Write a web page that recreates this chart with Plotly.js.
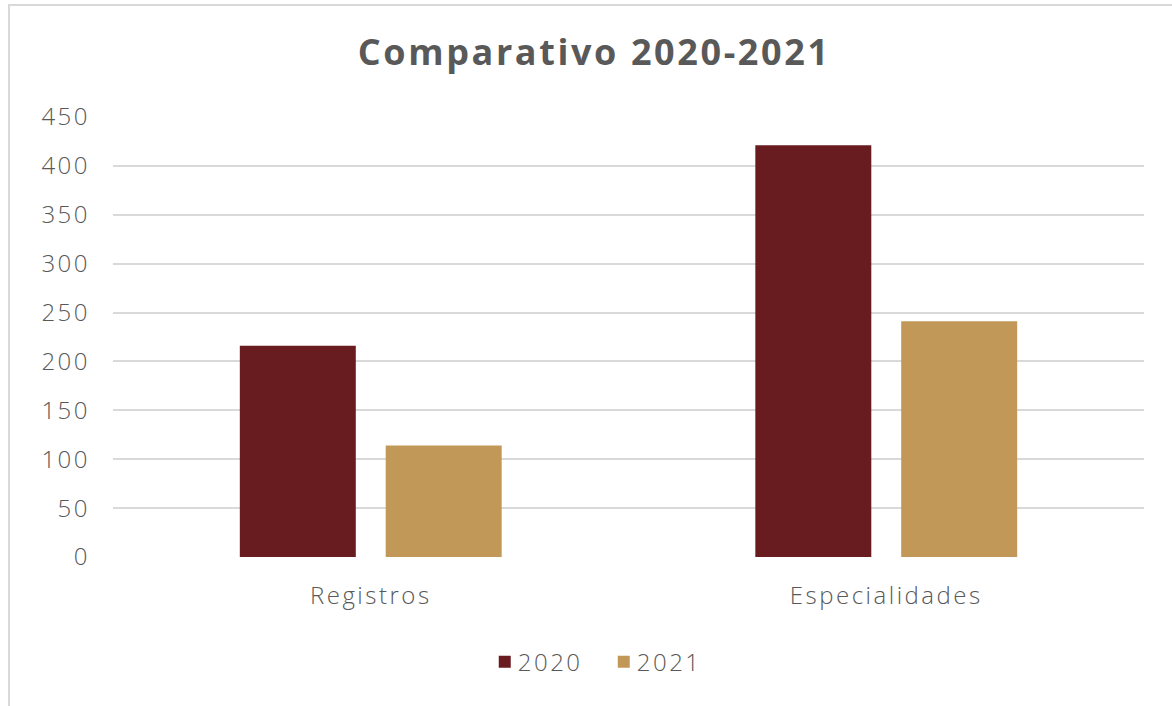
<!DOCTYPE html>
<html>
<head>
<meta charset="utf-8">
<script src="https://cdn.plot.ly/plotly-3.0.1.min.js"></script>
<style>
html,body{margin:0;padding:0;background:#fff;overflow:hidden;}
#frame{position:absolute;left:8px;top:4px;width:1180px;height:720px;border-left:2px solid #d9d9d9;border-top:2px solid #d9d9d9;}
#chart{position:absolute;left:0;top:0;width:1172px;height:706px;}
.xtick text, .ytick text, .legendtext { letter-spacing: 2.5px; }
.legendtext { transform: translateX(-7px); }
.gtitle { letter-spacing: 2.6px; }
</style>
</head>
<body>
<div id="frame"></div>
<div id="chart"></div>
<script>
const categories = ["Registros", "Especialidades"];
const series2020 = [216, 421];
const series2021 = [114, 241];
const seriesNames = ["2020", "2021"];
const tickVals = [0, 50, 100, 150, 200, 250, 300, 350, 400, 450];

const fontFam = "'Open Sans', Lato, sans-serif";
const txt = "#595959";

const traces = [
  {type: "bar", name: seriesNames[0], x: categories, y: series2020, marker: {color: "#691c20"}},
  {type: "bar", name: seriesNames[1], x: categories, y: series2021, marker: {color: "#c29858"}}
];

const layout = {
  width: 1172, height: 706,
  paper_bgcolor: "rgba(0,0,0,0)", plot_bgcolor: "rgba(0,0,0,0)",
  margin: {l: 113, r: 28, t: 117, b: 149},
  title: {text: "<b>Comparativo 2020-2021</b>", x: 0.507, xanchor: "center", y: 0.926, yanchor: "middle",
          font: {family: fontFam, size: 36, color: txt}},
  barmode: "group", bargap: 0.434, bargroupgap: 0.205,
  xaxis: {type: "category", showgrid: false, zeroline: false, showline: false, ticks: "",
          tickfont: {family: fontFam, size: 24, color: txt, weight: 300}, ticklabelstandoff: 22},
  yaxis: {range: [0, 450], tickvals: tickVals, showgrid: true, gridcolor: "#d9d9d9", gridwidth: 2,
          zeroline: false, showline: false, ticks: "",
          tickfont: {family: fontFam, size: 24, color: txt, weight: 300}, ticklabelstandoff: 22},
  showlegend: true,
  legend: {orientation: "h", x: 0.476, xanchor: "center", y: -0.239, yanchor: "middle",
           entrywidth: 74, entrywidthmode: "pixels",
           font: {family: fontFam, size: 24, color: txt, weight: 300}, itemwidth: 30, traceorder: "normal"}
};

Plotly.newPlot("chart", traces, layout, {displayModeBar: false, staticPlot: true});
</script>
</body>
</html>
